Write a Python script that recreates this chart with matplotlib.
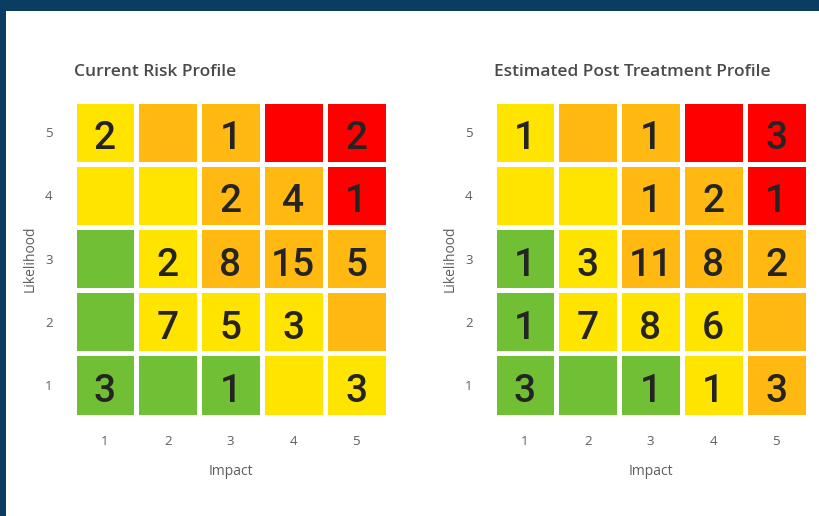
import matplotlib
matplotlib.use("Agg")
import matplotlib.pyplot as plt
import numpy as np
from matplotlib.colors import ListedColormap, BoundaryNorm
from matplotlib.patches import Rectangle

plt.rcParams['font.family'] = ['Open Sans', 'DejaVu Sans']

impact_ticks = ["1", "2", "3", "4", "5"]
likelihood_ticks = ["1", "2", "3", "4", "5"]
titles = ["Current Risk Profile", "Estimated Post Treatment Profile"]

# risk level per cell: 0 green, 1 yellow, 2 orange, 3 red; rows = likelihood 1..5, cols = impact 1..5
current_levels = [
    [0, 0, 0, 1, 1],
    [0, 1, 1, 1, 2],
    [0, 1, 2, 2, 2],
    [1, 1, 2, 2, 3],
    [1, 2, 2, 3, 3],
]
post_levels = [
    [0, 0, 0, 1, 2],
    [0, 1, 1, 1, 2],
    [0, 1, 2, 2, 2],
    [1, 1, 2, 2, 3],
    [1, 2, 2, 3, 3],
]
# counts per cell (None = empty); rows = likelihood 1..5
current_counts = [
    [3, None, 1, None, 3],
    [None, 7, 5, 3, None],
    [None, 2, 8, 15, 5],
    [None, None, 2, 4, 1],
    [2, None, 1, None, 2],
]
post_counts = [
    [3, None, 1, 1, 3],
    [1, 7, 8, 6, None],
    [1, 3, 11, 8, 2],
    [None, None, 1, 2, 1],
    [1, None, 1, None, 3],
]

level_colors = ['#70BF34', '#FFE400', '#FFB911', '#FF0000']

W, H = 819, 516
fig = plt.figure(figsize=(W / 100, H / 100), dpi=100)
fig.patch.set_facecolor('#0B3C61')
fig.patches.append(Rectangle((6 / W, 0), 1 - 6 / W, 1 - 11 / H, transform=fig.transFigure,
                             facecolor='white', edgecolor='none', zorder=-10))

cmap = ListedColormap(level_colors)
norm = BoundaryNorm([-0.5, 0.5, 1.5, 2.5, 3.5], cmap.N)

ax_lefts = [73.5, 493.5]
ax_w = 314
ax_top, ax_bot = 100.5, 416.5

for i, (levels, counts, title) in enumerate([(current_levels, current_counts, titles[0]),
                                              (post_levels, post_counts, titles[1])]):
    ax = fig.add_axes([ax_lefts[i] / W, (H - ax_bot) / H, ax_w / W, (ax_bot - ax_top) / H])
    ax.set_zorder(5)
    ax.patch.set_alpha(0)
    edges = np.arange(0.5, 6.0, 1.0)
    ax.pcolormesh(edges, edges, np.array(levels), cmap=cmap, norm=norm,
                  edgecolors='white', linewidth=2.3)
    for r in range(5):
        for c in range(5):
            v = counts[r][c]
            if v is not None:
                ax.text(c + 1, r + 1 - 0.04, str(v), ha='center', va='center_baseline',
                        fontsize=28, color='#252423', family=['Roboto', 'DejaVu Sans'],
                        fontweight='medium')
    ax.set_xlim(0.5, 5.5)
    ax.set_ylim(0.5, 5.5)
    ax.set_xticks(range(1, 6))
    ax.set_xticklabels(impact_ticks)
    ax.set_yticks(range(1, 6))
    ax.set_yticklabels(likelihood_ticks)
    ax.tick_params(length=0, labelsize=9.5, labelcolor='#605E5C')
    ax.tick_params(axis='x', pad=13)
    ax.tick_params(axis='y', pad=15)
    for s in ax.spines.values():
        s.set_visible(False)
    ax.set_xlabel("Impact", fontsize=10, color='#605E5C', labelpad=12)
    ax.set_ylabel("Likelihood", fontsize=10, color='#605E5C', labelpad=5)
    fig.text((ax_lefts[i] + 0.5) / W, (H - 76) / H, title, fontsize=12.5, color='#4A4A4A',
             ha='left', va='baseline', fontweight='semibold', zorder=6)

fig.savefig("out.png", dpi=100, facecolor=fig.get_facecolor())
